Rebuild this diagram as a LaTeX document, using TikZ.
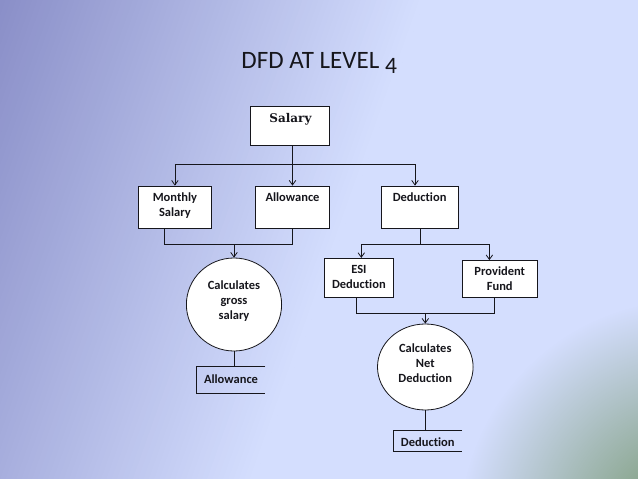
\documentclass[tikz,border=0pt]{standalone}
\usepackage{fontspec}
\setmainfont{Carlito}[Ligatures=NoCommon]
\newfontfamily\titlefont{Carlito}[Ligatures=NoCommon]
\newfontfamily\salfont{DejaVu Serif}
\usetikzlibrary{arrows.meta,fadings,shapes.geometric}
\definecolor{bgdark}{HTML}{8A8FC8}
\definecolor{bglight}{HTML}{D4DEFE}
\definecolor{bggreen}{HTML}{6E9164}
\definecolor{ink}{HTML}{16161C}
\tikzfading[name=greenfade, inner color=transparent!0, outer color=transparent!100]
\begin{document}
\begin{tikzpicture}[x=1pt,y=1pt,
  conn/.style={draw=ink, line width=0.8pt},
  arr/.style={conn, -{Straight Barb[length=4.5pt,width=6.5pt]}},
  procbox/.style={draw=ink, fill=white, line width=0.8pt, inner sep=0pt, minimum height=42.5pt},
  boxtext/.style={anchor=north, align=center, inner sep=0pt, font=\bfseries\fontsize{12.5}{15}\selectfont, text=ink, yshift=-5.3pt},
  proctext/.style={anchor=north, align=center, inner sep=0pt, font=\bfseries\fontsize{12.5}{15}\selectfont, text=ink},
  proc/.style={ellipse, draw=ink, fill=white, line width=0.8pt, inner sep=0pt},
  storetext/.style={anchor=base, inner sep=0pt, font=\bfseries\fontsize{12.5}{15}\selectfont, text=ink},
]
\useasboundingbox (0,0) rectangle (638,-479);
% background
\begin{scope}
  \clip (0,0) rectangle (638,-479);
  \fill[bgdark] (0,0) rectangle (638,-479);
  \begin{scope}[rotate=-19.5]
    \foreach \i in {0,...,79} {
      \pgfmathsetmacro\pct{100*(\i/79)}
      \fill[bglight!\pct!bgdark] (\i*5,-800) rectangle (\i*5+5.6,400);
    }
    \fill[bglight] (400,-800) rectangle (1400,400);
  \end{scope}
  \fill[bggreen, path fading=greenfade] (690,-530) circle (230);
\end{scope}
% title
\node[anchor=base, inner sep=0pt, font=\titlefont\fontsize{25}{30}\selectfont, text=ink] (title) at (319.2,-68.3) {DFD AT LEVEL \raisebox{-5pt}{\fontsize{23.5}{28}\selectfont 4}};
% boxes
\node[procbox, minimum width=79.5pt, minimum height=39.3pt] (sal) at (289.75,-125.65) {};
\node[anchor=base, inner sep=0pt, font=\salfont\bfseries\fontsize{12}{14}\selectfont, text=ink] (saltxt) at (290.5,-122.8) {Salary};
\node[procbox, minimum width=73.2pt] (mon) at (174.9,-207.25) {};
\node[boxtext] (montxt) at (mon.north) {\rule{0pt}{10pt}Monthly\\Salary};
\node[procbox, minimum width=74.4pt] (all) at (292.5,-207.25) {};
\node[boxtext] (alltxt) at (all.north) {\rule{0pt}{10pt}Allowance};
\node[procbox, minimum width=76.7pt] (ded) at (419.65,-207.25) {};
\node[boxtext] (dedtxt) at (ded.north) {\rule{0pt}{10pt}Deduction};
\node[procbox, minimum width=68.8pt, minimum height=39.2pt] (esi) at (358.9,-277.9) {};
\node[boxtext] (esitxt) at (esi.north) {\rule{0pt}{10pt}ESI\\Deduction};
\node[procbox, minimum width=74.5pt, minimum height=36.8pt] (pf) at (499.75,-278.9) {};
\node[boxtext] (pftxt) at (pf.north) {\rule{0pt}{10pt}Provident\\Fund};
% processes
\node[proc, minimum width=95.2pt, minimum height=93pt] (c1) at (234,-304.5) {};
\node[proctext] (c1txt) at ([yshift=25.1pt]c1.center) {\rule{0pt}{10pt}Calculates\\gross\\salary};
\node[proc, minimum width=95.6pt, minimum height=86pt] (c2) at (425.3,-367) {};
\node[proctext] (c2txt) at ([yshift=24.3pt]c2.center) {\rule{0pt}{10pt}Calculates\\Net\\Deduction};
% data stores
\coordinate (s1t) at (196.5,-366.7);
\coordinate (s1b) at (196.5,-393.3);
\draw[conn] (265.3,-366.7) -- (s1t) -- (s1b) -- (265.3,-393.3);
\node[storetext] (st1) at (231,-383) {Allowance};
\coordinate (s2t) at (393.4,-430);
\coordinate (s2b) at (393.4,-451.7);
\draw[conn] (462.2,-430) -- (s2t) -- (s2b) -- (462.2,-451.7);
\node[storetext] (st2) at (427.8,-446.7) {Deduction};
% connectors: salary split
\coordinate (jS) at (292,-164.3);
\coordinate (dArr) at (415,-164.3);
\draw[conn] (jS |- sal.south) -- (jS);
\draw[conn] (jS -| mon) -- (dArr);
\draw[arr] (jS -| mon) -- (mon.north);
\draw[arr] (jS -| all) -- (all.north);
\draw[arr] (dArr) -- (dArr |- ded.north);
% merge to gross salary
\coordinate (mL) at (164.4,-244.3);
\draw[conn] (mL |- mon.south) -- (mL) -- (mL -| all) -- (all.south);
\draw[arr] (c1.north |- mL) -- (c1.north);
\draw[conn] (c1.south) -- (c1.south |- s1t);
% deduction split
\coordinate (dJ) at (420.3,-244.3);
\coordinate (eArr) at (361.3,-244.3);
\coordinate (pArr) at (489.4,-244.3);
\draw[conn] (dJ |- ded.south) -- (dJ);
\draw[conn] (eArr) -- (pArr);
\draw[arr] (eArr) -- (eArr |- esi.north);
\draw[arr] (pArr) -- (pArr |- pf.north);
% merge to net deduction
\coordinate (eL) at (356.4,-313.3);
\coordinate (pR) at (494.3,-313.3);
\draw[conn] (eL |- esi.south) -- (eL) -- (pR) -- (pR |- pf.south);
\draw[arr] (c2.north |- eL) -- (c2.north);
\draw[conn] (c2.south) -- (c2.south |- s2t);
\end{tikzpicture}
\end{document}
